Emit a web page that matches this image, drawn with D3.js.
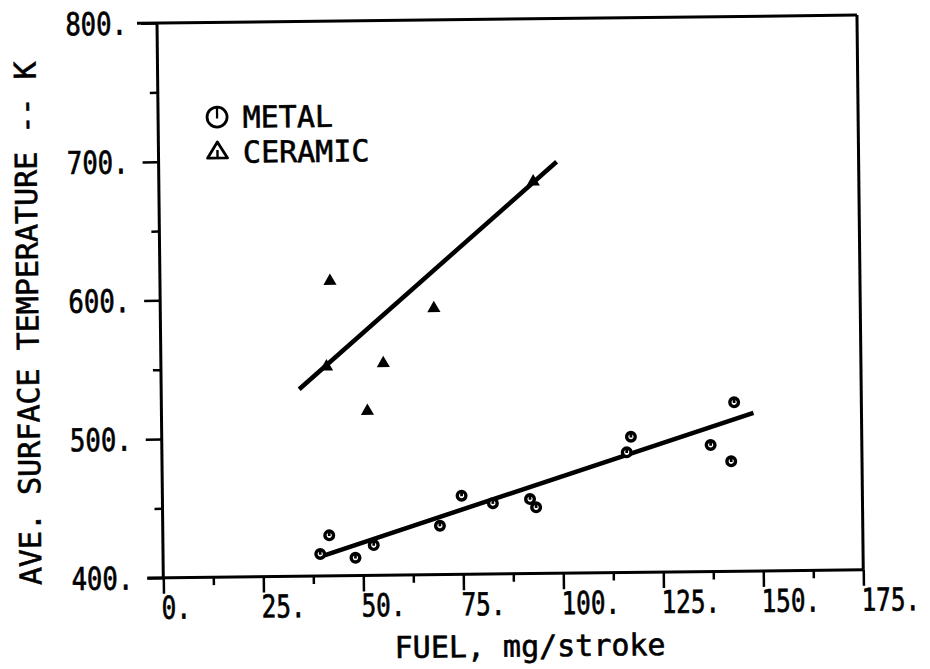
<!DOCTYPE html>
<html>
<head>
<meta charset="utf-8">
<script src="https://cdn.jsdelivr.net/npm/d3@7"></script>
<style>
  html, body { margin: 0; padding: 0; background: #fff; }
  svg { display: block; }
  text { font-family: "DejaVu Sans Mono", "Liberation Mono", monospace; fill: #000; stroke: #000; stroke-width: 0.6px; }
</style>
</head>
<body>
<svg id="chart" width="930" height="669"></svg>
<script>
// ---- data ----
const xTicks = [0, 25, 50, 75, 100, 125, 150, 175];
const xTickLabels = ["0.", "25.", "50.", "75.", "100.", "125.", "150.", "175."];
const yTicks = [400, 500, 600, 700, 800];
const yTickLabels = ["400.", "500.", "600.", "700.", "800."];
const xMinor = [12.5, 37.5, 62.5, 87.5, 112.5, 137.5, 162.5];
const yMinor = [450, 550, 650, 750];

const metalFuel = [39.3, 41.6, 48.1, 52.7, 69.3, 74.8, 82.6, 91.9, 93.4, 116.2, 117.3, 137.2, 142.3, 143.2];
const metalTemp = [415.8, 429.2, 412.8, 421.8, 435.2, 456.7, 451.0, 453.7, 447.7, 486.6, 497.8, 491.2, 479.3, 521.8];
const ceramicFuel = [42.5, 68.4, 41.4, 55.6, 51.5, 93.6];
const ceramicTemp = [612.5, 592.0, 550.8, 552.8, 518.5, 682.5];

const metalFitFuel = [39.2, 148.0];
const metalFitTemp = [413.8, 514.1];
const ceramicFitFuel = [34.5, 99.5];
const ceramicFitTemp = [534.8, 696.7];

const legendLabels = ["METAL", "CERAMIC"];
const xTitle = "FUEL, mg/stroke";
const yTitle = "AVE. SURFACE TEMPERATURE -- K";

// ---- layout ----
const W = 700, H = 554.7;
const svg = d3.select("#chart");
const g = svg.append("g").attr("transform", "translate(163.3,577.7) rotate(-0.65)");

const x = d3.scaleLinear().domain([0, 175]).range([0, W]);
const y = d3.scaleLinear().domain([400, 800]).range([0, -H]);

const ink = "#000";

// frame
g.append("line").attr("x1", -16).attr("x2", W).attr("y1", 0).attr("y2", 0)
  .attr("stroke", ink).attr("stroke-width", 3);
g.append("line").attr("x1", -20).attr("x2", W).attr("y1", -H).attr("y2", -H)
  .attr("stroke", ink).attr("stroke-width", 3);
g.append("line").attr("x1", 0).attr("x2", 0).attr("y1", 0).attr("y2", -H)
  .attr("stroke", ink).attr("stroke-width", 3);
g.append("line").attr("x1", W).attr("x2", W).attr("y1", 0).attr("y2", -H)
  .attr("stroke", ink).attr("stroke-width", 3);

// bottom axis
const xa = g.append("g").call(d3.axisBottom(x).tickValues(xTicks).tickSize(16).tickFormat(""));
xa.select(".domain").remove();
xa.selectAll(".tick line").attr("stroke", ink).attr("stroke-width", 2.5);
const xaMinor = g.append("g").call(d3.axisBottom(x).tickValues(xMinor).tickSize(8).tickFormat(""));
xaMinor.select(".domain").remove();
xaMinor.selectAll(".tick line").attr("stroke", ink).attr("stroke-width", 2.5);

g.append("g").selectAll("text").data(xTicks).join("text")
  .attr("transform", d => `translate(${x(d) - 2},41) scale(0.9,1.16)`)
  .attr("font-size", 27)
  .attr("text-anchor", "start")
  .text((d, i) => xTickLabels[i]);

// left axis
const ya = g.append("g").call(d3.axisLeft(y).tickValues(yTicks).tickSize(16).tickFormat(""));
ya.select(".domain").remove();
ya.selectAll(".tick line").attr("stroke", ink).attr("stroke-width", 2.5);
const yaMinor = g.append("g").call(d3.axisLeft(y).tickValues(yMinor).tickSize(8).tickFormat(""));
yaMinor.select(".domain").remove();
yaMinor.selectAll(".tick line").attr("stroke", ink).attr("stroke-width", 2.5);

g.append("g").selectAll("text").data(yTicks).join("text")
  .attr("transform", d => `translate(-30,${y(d)}) scale(0.95,1.16)`)
  .attr("dy", "0.36em")
  .attr("font-size", 27)
  .attr("text-anchor", "end")
  .text((d, i) => yTickLabels[i]);

// titles
g.append("text")
  .attr("transform", "translate(366,83)")
  .attr("font-size", 30)
  .attr("text-anchor", "middle")
  .text(xTitle);
g.append("text")
  .attr("transform", "translate(-122,6) rotate(-90)")
  .attr("font-size", 30)
  .attr("text-anchor", "start")
  .text(yTitle);

// fit lines
const line = d3.line().x(d => x(d[0])).y(d => y(d[1]));
g.append("path").datum(metalFitFuel.map((f, i) => [f, metalFitTemp[i]]))
  .attr("d", line).attr("fill", "none").attr("stroke", ink).attr("stroke-width", 4.5);
g.append("path").datum(ceramicFitFuel.map((f, i) => [f, ceramicFitTemp[i]]))
  .attr("d", line).attr("fill", "none").attr("stroke", ink).attr("stroke-width", 4.5);

// metal markers
function metalMarker(sel, r, sw) {
  sel.append("circle").attr("r", r).attr("fill", "#fff").attr("stroke", ink).attr("stroke-width", sw);
  sel.append("line").attr("x1", 0).attr("x2", 0).attr("y1", -r).attr("y2", 0.15 * r)
    .attr("stroke", ink).attr("stroke-width", sw * 0.8);
}
const mg = g.append("g").selectAll("g").data(metalFuel.map((f, i) => [f, metalTemp[i]])).join("g")
  .attr("transform", d => `translate(${x(d[0])},${y(d[1])})`);
mg.each(function() { metalMarker(d3.select(this), 4.3, 3.4); });

// ceramic markers
const tri = d3.symbol().type(d3.symbolTriangle).size(75);
g.append("g").selectAll("path").data(ceramicFuel.map((f, i) => [f, ceramicTemp[i]])).join("path")
  .attr("d", tri)
  .attr("transform", d => `translate(${x(d[0])},${y(d[1])})`)
  .attr("fill", ink);

// legend
const lg = g.append("g");
const m = lg.append("g").attr("transform", "translate(59,-460)");
metalMarker(m, 10, 2.8);
lg.append("text").attr("x", 84.5).attr("y", -449).attr("font-size", 30).text(legendLabels[0]);
const t = lg.append("g").attr("transform", "translate(59,-427)");
t.append("path").attr("d", "M0,-8 L10,8 L-10,8 Z").attr("fill", "none").attr("stroke", ink).attr("stroke-width", 2.8).attr("stroke-linejoin", "round");
t.append("line").attr("x1", 0).attr("x2", 0).attr("y1", 0).attr("y2", 8).attr("stroke", ink).attr("stroke-width", 2.4);
lg.append("text").attr("x", 84.5).attr("y", -414).attr("font-size", 30).text(legendLabels[1]);
</script>
</body>
</html>
